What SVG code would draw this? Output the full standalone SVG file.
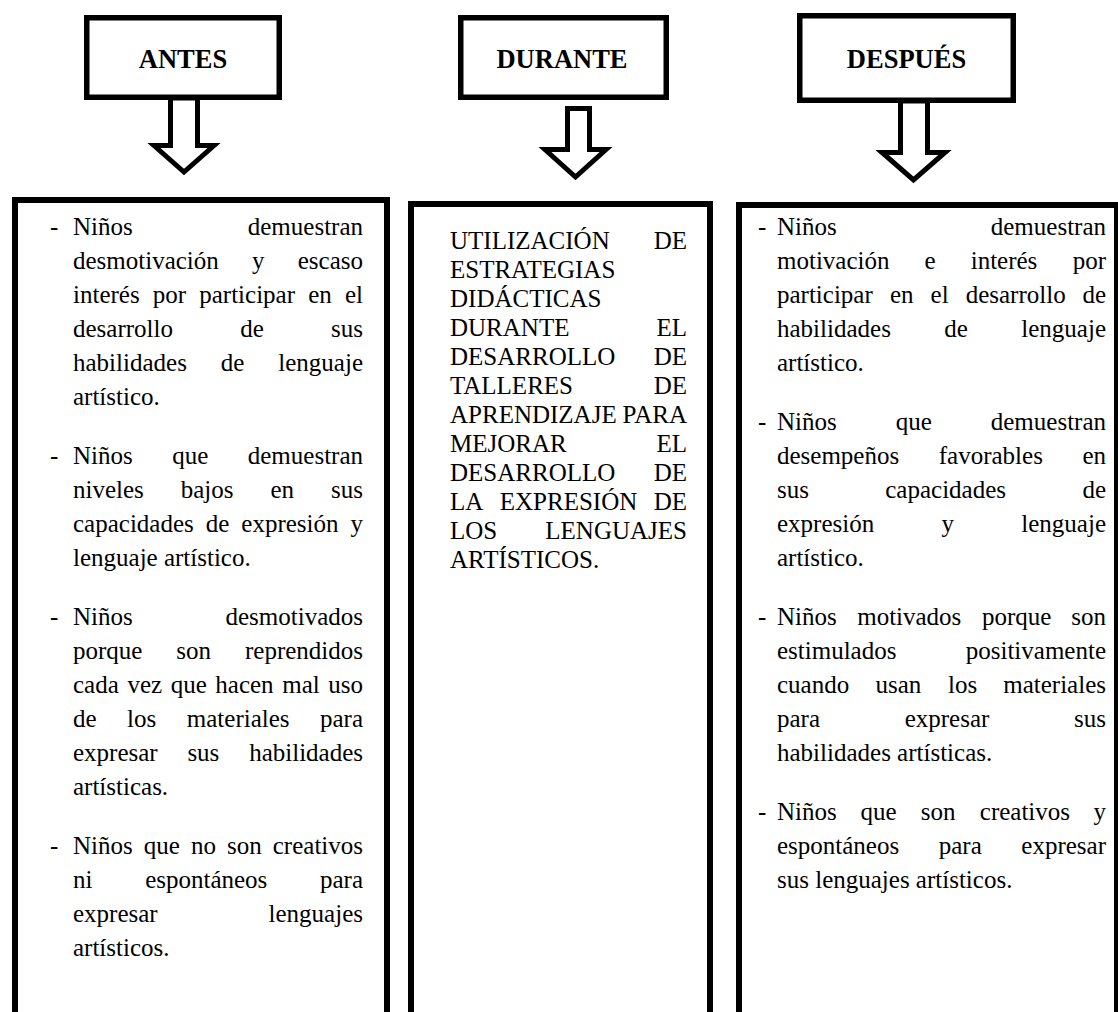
<svg xmlns="http://www.w3.org/2000/svg" width="1118" height="1012" viewBox="0 0 1118 1012">
<style>
.t{font-family:"Liberation Serif","Times New Roman",serif;font-size:25px;fill:#000}
.h{font-family:"Liberation Serif","Times New Roman",serif;font-size:26.5px;font-weight:bold;fill:#000;text-anchor:middle}
.box{fill:none;stroke:#000;stroke-width:6}
.hdr{fill:#fff;stroke:#000;stroke-width:5.5}
.arr{fill:#fff;stroke:#000;stroke-width:5}
</style>
<rect width="1118" height="1012" fill="#fff"/>
<g id="connectors">
<polygon class="arr" points="170.5,98 170.5,145.5 154,145.5 184,172 214,145.5 197.5,145.5 197.5,98"/>
<polygon class="arr" points="567.5,108.5 567.5,149.5 545,149.5 575.5,177 606,149.5 589.5,149.5 589.5,108.5"/>
<polygon class="arr" points="900.5,101 900.5,152.5 882,152.5 913.5,180 945,152.5 927.5,152.5 927.5,101"/>
</g>
<g id="antes">
<rect class="hdr" x="86.75" y="17.75" width="192.5" height="79.5"/>
<text class="h" x="183" y="68">ANTES</text>
</g>
<g id="durante">
<rect class="hdr" x="460.75" y="17.75" width="205.5" height="79.5"/>
<text class="h" x="562" y="68">DURANTE</text>
</g>
<g id="despues">
<rect class="hdr" x="799.75" y="15.75" width="213.5" height="84.5"/>
<text class="h" x="906.5" y="68">DESPUÉS</text>
</g>
<g id="box-antes">
<path class="box" d="M15,1020 V200 H387 V1020"/>
<text class="t" x="50" y="235">-</text>
<text class="t" y="235"><tspan x="73">Niños</tspan><tspan x="363" text-anchor="end">demuestran</tspan></text>
<text class="t" y="269"><tspan x="73">desmotivación</tspan><tspan x="252">y</tspan><tspan x="363" text-anchor="end">escaso</tspan></text>
<text class="t" y="303"><tspan x="73">interés</tspan><tspan x="152.8">por</tspan><tspan x="199.25">participar</tspan><tspan x="308.2">en</tspan><tspan x="363" text-anchor="end">el</tspan></text>
<text class="t" y="337"><tspan x="73">desarrollo</tspan><tspan x="240.2">de</tspan><tspan x="363" text-anchor="end">sus</tspan></text>
<text class="t" y="371"><tspan x="73">habilidades</tspan><tspan x="220.8">de</tspan><tspan x="363" text-anchor="end">lenguaje</tspan></text>
<text class="t" x="73" y="405">artístico.</text>
<text class="t" x="50" y="464">-</text>
<text class="t" y="464"><tspan x="73">Niños</tspan><tspan x="172.2">que</tspan><tspan x="363" text-anchor="end">demuestran</tspan></text>
<text class="t" y="498"><tspan x="73">niveles</tspan><tspan x="180.75">bajos</tspan><tspan x="270.5">en</tspan><tspan x="363" text-anchor="end">sus</tspan></text>
<text class="t" y="532"><tspan x="73">capacidades</tspan><tspan x="205.8">de</tspan><tspan x="241.3">expresión</tspan><tspan x="363" text-anchor="end">y</tspan></text>
<text class="t" x="73" y="566">lenguaje artístico.</text>
<text class="t" x="50" y="625">-</text>
<text class="t" y="625"><tspan x="73">Niños</tspan><tspan x="363" text-anchor="end">desmotivados</tspan></text>
<text class="t" y="659"><tspan x="73">porque</tspan><tspan x="176.35">son</tspan><tspan x="363" text-anchor="end">reprendidos</tspan></text>
<text class="t" y="693"><tspan x="73">cada</tspan><tspan x="127.4">vez</tspan><tspan x="170.7">que</tspan><tspan x="215.3">hacen</tspan><tspan x="282.2">mal</tspan><tspan x="363" text-anchor="end">uso</tspan></text>
<text class="t" y="727"><tspan x="73">de</tspan><tspan x="127.1">los</tspan><tspan x="186.8">materiales</tspan><tspan x="363" text-anchor="end">para</tspan></text>
<text class="t" y="761"><tspan x="73">expresar</tspan><tspan x="187.4">sus</tspan><tspan x="363" text-anchor="end">habilidades</tspan></text>
<text class="t" x="73" y="795">artísticas.</text>
<text class="t" x="50" y="854">-</text>
<text class="t" y="854"><tspan x="73">Niños</tspan><tspan x="143.8">que</tspan><tspan x="190.9">no</tspan><tspan x="227">son</tspan><tspan x="363" text-anchor="end">creativos</tspan></text>
<text class="t" y="888"><tspan x="73">ni</tspan><tspan x="145.15">espontáneos</tspan><tspan x="363" text-anchor="end">para</tspan></text>
<text class="t" y="922"><tspan x="73">expresar</tspan><tspan x="363" text-anchor="end">lenguajes</tspan></text>
<text class="t" x="73" y="956">artísticos.</text>
</g>
<g id="box-durante">
<path class="box" d="M411,1020 V204 H710 V1020"/>
<text class="t" y="249"><tspan x="450">UTILIZACIÓN</tspan><tspan x="687" text-anchor="end">DE</tspan></text>
<text class="t" x="450" y="278">ESTRATEGIAS</text>
<text class="t" x="450" y="307">DIDÁCTICAS</text>
<text class="t" y="336"><tspan x="450">DURANTE</tspan><tspan x="687" text-anchor="end">EL</tspan></text>
<text class="t" y="365"><tspan x="450">DESARROLLO</tspan><tspan x="687" text-anchor="end">DE</tspan></text>
<text class="t" y="394"><tspan x="450">TALLERES</tspan><tspan x="687" text-anchor="end">DE</tspan></text>
<text class="t" y="423"><tspan x="450">APRENDIZAJE</tspan><tspan x="687" text-anchor="end">PARA</tspan></text>
<text class="t" y="452"><tspan x="450">MEJORAR</tspan><tspan x="687" text-anchor="end">EL</tspan></text>
<text class="t" y="481"><tspan x="450">DESARROLLO</tspan><tspan x="687" text-anchor="end">DE</tspan></text>
<text class="t" y="510"><tspan x="450">LA</tspan><tspan x="499.75">EXPRESIÓN</tspan><tspan x="687" text-anchor="end">DE</tspan></text>
<text class="t" y="539"><tspan x="450">LOS</tspan><tspan x="687" text-anchor="end">LENGUAJES</tspan></text>
<text class="t" x="450" y="568">ARTÍSTICOS.</text>
</g>
<g id="box-despues">
<path class="box" d="M739,1020 V205 H1117 V1020"/>
<text class="t" x="758" y="235">-</text>
<text class="t" y="235"><tspan x="777">Niños</tspan><tspan x="1106" text-anchor="end">demuestran</tspan></text>
<text class="t" y="269"><tspan x="777">motivación</tspan><tspan x="924.5">e</tspan><tspan x="970.7">interés</tspan><tspan x="1106" text-anchor="end">por</tspan></text>
<text class="t" y="303"><tspan x="777">participar</tspan><tspan x="889.9">en</tspan><tspan x="930.6">el</tspan><tspan x="965.7">desarrollo</tspan><tspan x="1106" text-anchor="end">de</tspan></text>
<text class="t" y="337"><tspan x="777">habilidades</tspan><tspan x="944.3">de</tspan><tspan x="1106" text-anchor="end">lenguaje</tspan></text>
<text class="t" x="777" y="371">artístico.</text>
<text class="t" x="758" y="430">-</text>
<text class="t" y="430"><tspan x="777">Niños</tspan><tspan x="895.7">que</tspan><tspan x="1106" text-anchor="end">demuestran</tspan></text>
<text class="t" y="464"><tspan x="777">desempeños</tspan><tspan x="938.75">favorables</tspan><tspan x="1106" text-anchor="end">en</tspan></text>
<text class="t" y="498"><tspan x="777">sus</tspan><tspan x="885.25">capacidades</tspan><tspan x="1106" text-anchor="end">de</tspan></text>
<text class="t" y="532"><tspan x="777">expresión</tspan><tspan x="941.5">y</tspan><tspan x="1106" text-anchor="end">lenguaje</tspan></text>
<text class="t" x="777" y="566">artístico.</text>
<text class="t" x="758" y="625">-</text>
<text class="t" y="625"><tspan x="777">Niños</tspan><tspan x="857.2">motivados</tspan><tspan x="981.9">porque</tspan><tspan x="1106" text-anchor="end">son</tspan></text>
<text class="t" y="659"><tspan x="777">estimulados</tspan><tspan x="1106" text-anchor="end">positivamente</tspan></text>
<text class="t" y="693"><tspan x="777">cuando</tspan><tspan x="875.5">usan</tspan><tspan x="948">los</tspan><tspan x="1106" text-anchor="end">materiales</tspan></text>
<text class="t" y="727"><tspan x="777">para</tspan><tspan x="904.7">expresar</tspan><tspan x="1106" text-anchor="end">sus</tspan></text>
<text class="t" x="777" y="761">habilidades artísticas.</text>
<text class="t" x="758" y="820">-</text>
<text class="t" y="820"><tspan x="777">Niños</tspan><tspan x="860.6">que</tspan><tspan x="920.7">son</tspan><tspan x="979.8">creativos</tspan><tspan x="1106" text-anchor="end">y</tspan></text>
<text class="t" y="854"><tspan x="777">espontáneos</tspan><tspan x="938.75">para</tspan><tspan x="1106" text-anchor="end">expresar</tspan></text>
<text class="t" x="777" y="888">sus lenguajes artísticos.</text>
</g>
</svg>
